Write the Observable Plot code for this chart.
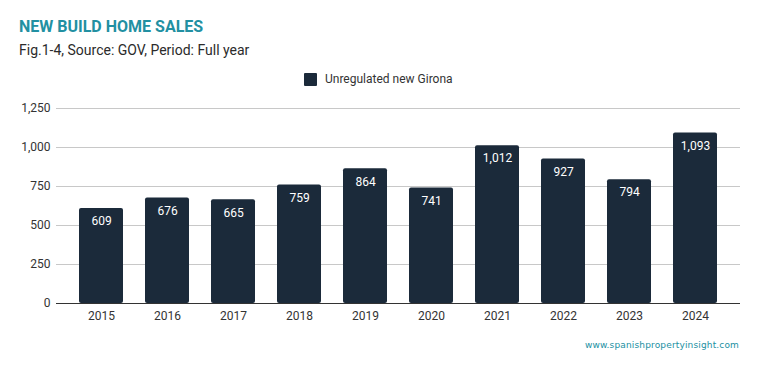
<!DOCTYPE html>
<html><head><meta charset="utf-8">
<script src="https://cdn.jsdelivr.net/npm/d3@7"></script>
<script src="https://cdn.jsdelivr.net/npm/@observablehq/plot@0.6"></script>
<style>
body{margin:0;background:#fff;font-family:Roboto,sans-serif;width:759px;height:371px;position:relative;overflow:hidden}
#title{position:absolute;left:19px;top:17px;font-size:16px;font-weight:700;color:#2290a2}
#sub{position:absolute;left:19px;top:42px;font-size:14px;color:#2b2b2b}
#legend{position:absolute;left:304px;top:72px;font-size:12px;color:#333;display:flex;align-items:center}
#legend span.sw{display:inline-block;width:13px;height:13px;background:#1b2a3a;border-radius:1px;margin-right:8px}
#chart{position:absolute;left:0;top:95px}
#wm{position:absolute;right:20px;top:340px;font-size:9px;color:#2190a2;letter-spacing:0.15px;font-family:"DejaVu Sans",sans-serif}
</style></head>
<body>
<div id="title">NEW BUILD HOME SALES</div>
<div id="sub">Fig.1-4, Source: GOV, Period: Full year</div>
<div id="legend"><span class="sw"></span>Unregulated new Girona</div>
<div id="chart"></div>
<div id="wm">www.spanishpropertyinsight.com</div>
<script>
const years = ["2015","2016","2017","2018","2019","2020","2021","2022","2023","2024"];
const sales = [609,676,665,759,864,741,1012,927,794,1093];
const yTicks = [0,250,500,750,1000,1250];
const data = years.map((y,i)=>({year:y, value:sales[i]}));
const fmt = d3.format(",");
const chart = Plot.plot({
  width:759, height:238,
  marginTop:13, marginBottom:30, marginLeft:56, marginRight:19,
  style:{fontFamily:"Roboto, sans-serif", fontSize:"12px", color:"#333"},
  x:{domain:years, padding:0.34, label:null, tickSize:0, tickPadding:8},
  y:{domain:[0,1250], ticks:yTicks, label:null, tickFormat:fmt, tickSize:0, tickPadding:6},
  marks:[
    Plot.gridY(yTicks.filter(d=>d>0), {stroke:"#c8c8c8", strokeOpacity:1}),
    Plot.barY(data, {x:"year", y:"value", fill:"#1b2a3a", rx:2}),
    Plot.text(data, {x:"year", y:"value", text:d=>fmt(d.value), fill:"#fff", dy:13, fontSize:12}),
    Plot.ruleY([0], {stroke:"#333"})
  ]
});
document.getElementById("chart").appendChild(chart);
</script>
</body></html>
